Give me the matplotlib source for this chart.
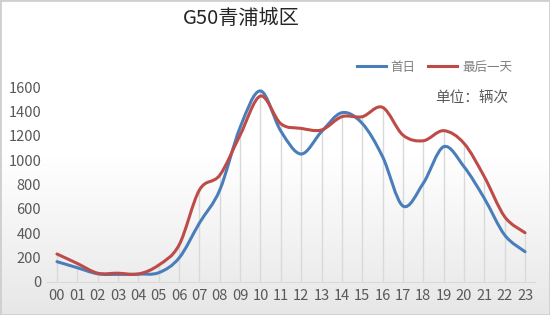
import numpy as np
import matplotlib.pyplot as plt
from matplotlib.path import Path
from matplotlib.patches import PathPatch, Rectangle
from matplotlib.lines import Line2D
from matplotlib.colors import LinearSegmentedColormap

plt.rcParams['font.family'] = ['Noto Sans CJK SC', 'DejaVu Sans']

# hourly traffic (vehicles)
hours = ['%02d' % h for h in range(24)]
first_day = [165, 115, 65, 60, 63, 74, 195, 483, 755, 1270, 1570, 1240,
             1051, 1235, 1391, 1303, 1029, 623, 810, 1111, 947, 686, 384, 247]
last_day = [228, 150, 70, 70, 63, 137, 302, 755, 877, 1207, 1528, 1300,
            1262, 1249, 1358, 1358, 1435, 1207, 1160, 1243, 1139, 864, 535, 403]
yticks = [0, 200, 400, 600, 800, 1000, 1200, 1400, 1600]

blue = '#4A7EBB'
red = '#BE4B48'
grey_txt = '#595959'


# smoothed line like excel's, cubic bezier through the data points
def smooth_path(x, y):
    pts = np.column_stack([x, y]).astype(float)
    n = len(pts)
    verts = [pts[0]]
    codes = [Path.MOVETO]
    for i in range(n - 1):
        p0 = pts[max(i - 1, 0)]
        p1 = pts[i]
        p2 = pts[i + 1]
        p3 = pts[min(i + 2, n - 1)]
        c1 = p1 + (p2 - p0) / 6
        c2 = p2 - (p3 - p1) / 6
        verts += [c1, c2, p2]
        codes += [Path.CURVE4] * 3
    return Path(verts, codes)


fig = plt.figure(figsize=(5.5, 3.15), dpi=100)

# background gradient
bg = fig.add_axes([0, 0, 1, 1], zorder=-1)
grad = np.linspace(0, 1, 256).reshape(-1, 1)
cmap = LinearSegmentedColormap.from_list('bg', ['#ffffff', '#ffffff', '#e7e7e7'])
bg.imshow(grad, aspect='auto', cmap=cmap, extent=[0, 1, 0, 1])
bg.axis('off')

ax = fig.add_axes([46.8 / 550, 1 - 281.7 / 315, 488.4 / 550, 194.4 / 315])
ax.set_facecolor('none')
x = np.arange(len(hours))

# drop lines
ax.vlines(x, 0, np.maximum(first_day, last_day), color='#d9d9d9', lw=1, zorder=1)

for vals, c in [(first_day, blue), (last_day, red)]:
    patch = PathPatch(smooth_path(x, vals), facecolor='none', edgecolor=c,
                      lw=2.2, capstyle='round', joinstyle='round', zorder=3)
    patch.set_clip_on(False)
    ax.add_patch(patch)

ax.set_xlim(-0.5, len(hours) - 0.5)
ax.set_ylim(0, 1600)
ax.set_xticks(x)
ax.set_xticklabels(hours)
ax.set_yticks(yticks)
ax.tick_params(axis='both', length=0, labelsize=10.5, colors=grey_txt)
ax.tick_params(axis='y', pad=4)
ax.tick_params(axis='x', pad=5)
for s in ['top', 'right', 'left']:
    ax.spines[s].set_visible(False)
ax.spines['bottom'].set_color('#d9d9d9')

fig.text(241 / 550, 1 - 19 / 315, 'G50青浦城区', ha='center', va='center',
         fontsize=14.5, color='#262626')
fig.text(508 / 550, 1 - 98 / 315, '单位：辆次', ha='right', va='center',
         fontsize=10.5, color=grey_txt)

handles = [Line2D([], [], color=blue, lw=2.2), Line2D([], [], color=red, lw=2.2)]
fig.legend(handles, ['首日', '最后一天'], loc='center right',
           bbox_to_anchor=(512 / 550, 1 - 67 / 315), ncol=2, frameon=False,
           fontsize=9, handlelength=2.3, handletextpad=0.4, columnspacing=1.0,
           borderpad=0, borderaxespad=0, labelcolor='#7f7f7f')

fig.patches.append(Rectangle((0, 0), 1, 1, transform=fig.transFigure,
                             fill=False, edgecolor='#cfcfcf', lw=2))

fig.savefig('out.png', dpi=100)
